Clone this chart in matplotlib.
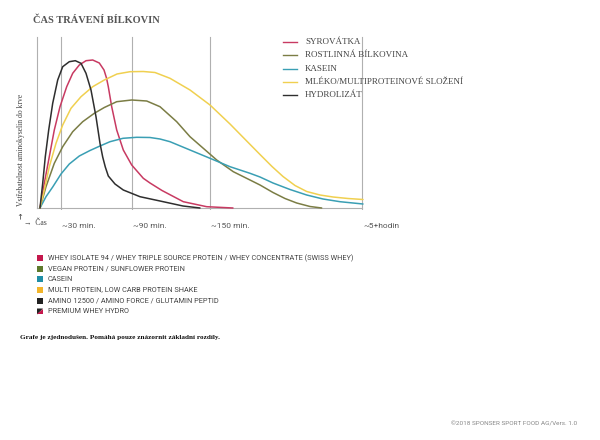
import matplotlib
matplotlib.use("Agg")
import matplotlib.pyplot as plt
from matplotlib.patches import Polygon, Rectangle

W, H = 600, 440

# curve data: x = position along time axis, y = absorption level
black_x = [0, 2.7, 5.3, 8.7, 12.7, 17.7, 22.7, 29.3, 35.3, 41, 46, 51, 56, 60, 62.7,
           65.3, 68.3, 75, 83.3, 100, 120, 143, 160]
black_y = [0, 24.7, 51.3, 78, 104.7, 128, 141.3, 146.3, 147.3, 144.7, 134.7, 118, 91.3,
           64.7, 51, 41, 32, 24, 18, 11.3, 7, 2, 0]

red_x = [0, 4.3, 9.3, 14.3, 20, 26.7, 32.7, 39.3, 46, 52.7, 59.3, 64, 66.5, 68.3, 71.7,
         76.7, 83.3, 91.7, 103.3, 110, 122, 143.3, 166.7, 193]
red_y = [0, 24.7, 51.3, 78, 101.3, 121.3, 134.7, 143, 147.3, 148, 145, 138, 130, 121.3,
         101.3, 78, 58, 43, 29.7, 25, 17.5, 6.3, 1.3, 0]

yellow_x = [0, 4.3, 9.3, 16, 22.7, 31, 41, 52.7, 64.3, 77, 90, 103.3, 115, 130, 150, 170,
            190, 206.7, 220, 232, 243, 255, 266.7, 280, 293, 308, 323]
yellow_y = [0, 18, 41.3, 64.7, 83, 99.7, 111.3, 121.3, 128, 134, 136.3, 136.5, 135.5,
            129.7, 118, 103, 84, 67, 53.5, 41.5, 31.5, 22.5, 16.5, 13, 11, 9.5, 8.5]

olive_x = [0, 6, 14.3, 22.7, 32.7, 42.7, 54.3, 64.3, 76.7, 91.7, 106.7, 120, 136.7, 150,
           163.3, 176.7, 193.3, 210, 220, 233, 245, 256.7, 270, 281.7]
olive_y = [0, 21.3, 44.7, 61.3, 76.3, 86.3, 94.7, 100.5, 106.3, 108, 107, 101.3, 86.3,
           71.3, 59.7, 48, 36.3, 28, 23, 15.5, 9.5, 5, 1.5, 0]

teal_x = [0, 6, 12.7, 21, 29.3, 39.3, 50, 60, 70, 83, 96.7, 110, 120, 130, 150, 170, 190,
          210, 220, 233, 250, 266.7, 283, 300, 323]
teal_y = [0, 11.3, 21, 34, 44, 52, 57.5, 62, 66.3, 69.7, 70.7, 70.5, 69, 66.3, 58, 49.7,
          41.3, 34.7, 31, 25, 18.5, 13, 9, 6.3, 4]

series_names = ["SYROVÁTKA", "ROSTLINNÁ BÍLKOVINA", "KASEIN",
                "MLÉKO/MULTIPROTEINOVÉ SLOŽENÍ", "HYDROLIZÁT"]
series_colors = ["#c83a62", "#7b7d45", "#3a9fb4", "#f0d050", "#2e2e2e"]

tick_pos = [21, 92, 170, 322]
tick_labels = ["~30 min.", "~90 min.", "~150 min.", "~5+hodin"]

product_labels = [
    "WHEY ISOLATE 94 / WHEY TRIPLE SOURCE PROTEIN / WHEY CONCENTRATE (SWISS WHEY)",
    "VEGAN PROTEIN / SUNFLOWER PROTEIN",
    "CASEIN",
    "MULTI PROTEIN, LOW CARB PROTEIN SHAKE",
    "AMINO 12500 / AMINO FORCE / GLUTAMIN PEPTID",
    "PREMIUM WHEY HYDRO",
]
product_colors = ["#c4174c", "#5e7a2c", "#1f8ea6", "#f2b52a", "#222222", "#8a1430"]

serif = ["Liberation Serif", "DejaVu Serif"]
narrow = ["Roboto", "DejaVu Sans"]


def fx(px):
    return px / W


def fy(py):
    return 1 - py / H


fig = plt.figure(figsize=(6, 4.4), dpi=100)
fig.patch.set_facecolor("white")

# axes: x data = px - 40, y data = 208 - py
x0, x1 = -5, 330
y0, y1 = -2, 172
ax = fig.add_axes([fx(40 + x0), fy(208 - y0), (x1 - x0) / W, (y1 - y0) / H])
ax.set_xlim(x0, x1)
ax.set_ylim(y0, y1)
ax.axis("off")

grid_col = "#b0b0b0"
ax.plot([-3, -3], [0, 171], color=grid_col, lw=0.8)
for t in tick_pos:
    ax.plot([t, t], [-1, 171], color=grid_col, lw=0.8)
ax.plot([-3, 322], [0, 0], color=grid_col, lw=0.8)

curves = [(red_x, red_y), (olive_x, olive_y), (teal_x, teal_y),
          (yellow_x, yellow_y), (black_x, black_y)]
for (cx, cy), col in zip(curves, series_colors):
    ax.plot(cx, cy, color=col, lw=1.1, solid_joinstyle="round", solid_capstyle="round")

# tick labels
for t, lab in zip(tick_pos, tick_labels):
    fig.text(fx(t + 41), fy(226), lab, fontsize=6, family=narrow, color="#555555",
             ha="left", va="center")

# axis labels
fig.text(fx(21), fy(150), "Vstřebatelnost aminokyselin do krve", fontsize=5.5,
         family=serif, color="#444444", rotation=90, ha="center", va="center")
fig.text(fx(21), fy(216), "→", fontsize=5.5, family=["DejaVu Sans"], color="#444444",
         rotation=90, ha="center", va="center")
fig.text(fx(24), fy(223), "→  Čas", fontsize=5.5, family=serif, color="#444444",
         ha="left", va="center")

# title
fig.text(fx(33), fy(20), "ČAS TRÁVENÍ BÍLKOVIN", fontsize=7.5, family=serif,
         color="#555555", ha="left", va="center", weight="bold")

# legend (series)
for i, (name, col) in enumerate(zip(series_names, series_colors)):
    yy = 42 + i * 13.3
    fig.add_artist(plt.Line2D([fx(283), fx(297)], [fy(yy), fy(yy)], color=col, lw=1.0))
    fig.text(fx(305), fy(yy), name, fontsize=6.5, family=serif, color="#444444",
             ha="left", va="center")

# product legend
for i, (lab, col) in enumerate(zip(product_labels, product_colors)):
    yy = 258 + i * 10.7
    if i == 5:
        fig.add_artist(Polygon([(fx(37), fy(yy - 3)), (fx(43), fy(yy - 3)), (fx(37), fy(yy + 3))],
                               closed=True, facecolor="#222222", edgecolor="none"))
        fig.add_artist(Polygon([(fx(43), fy(yy - 3)), (fx(43), fy(yy + 3)), (fx(37), fy(yy + 3))],
                               closed=True, facecolor="#c4174c", edgecolor="none"))
    else:
        fig.add_artist(Rectangle((fx(37), fy(yy + 3)), 6 / W, 6 / H,
                                 facecolor=col, edgecolor="none"))
    fig.text(fx(48), fy(yy), lab, fontsize=5.3, family=narrow, color="#444444",
             ha="left", va="center")

fig.text(fx(20), fy(337), "Grafe je zjednodušen. Pomáhá pouze znázornit základní rozdíly.",
         fontsize=5.2, family=serif, color="#111111", ha="left", va="center", weight="bold")

fig.text(fx(577), fy(424), "©2018 SPONSER SPORT FOOD AG/Vers. 1.0", fontsize=4.6,
         family=narrow, color="#888888", ha="right", va="center")

fig.savefig("out.png", dpi=100, facecolor="white")
